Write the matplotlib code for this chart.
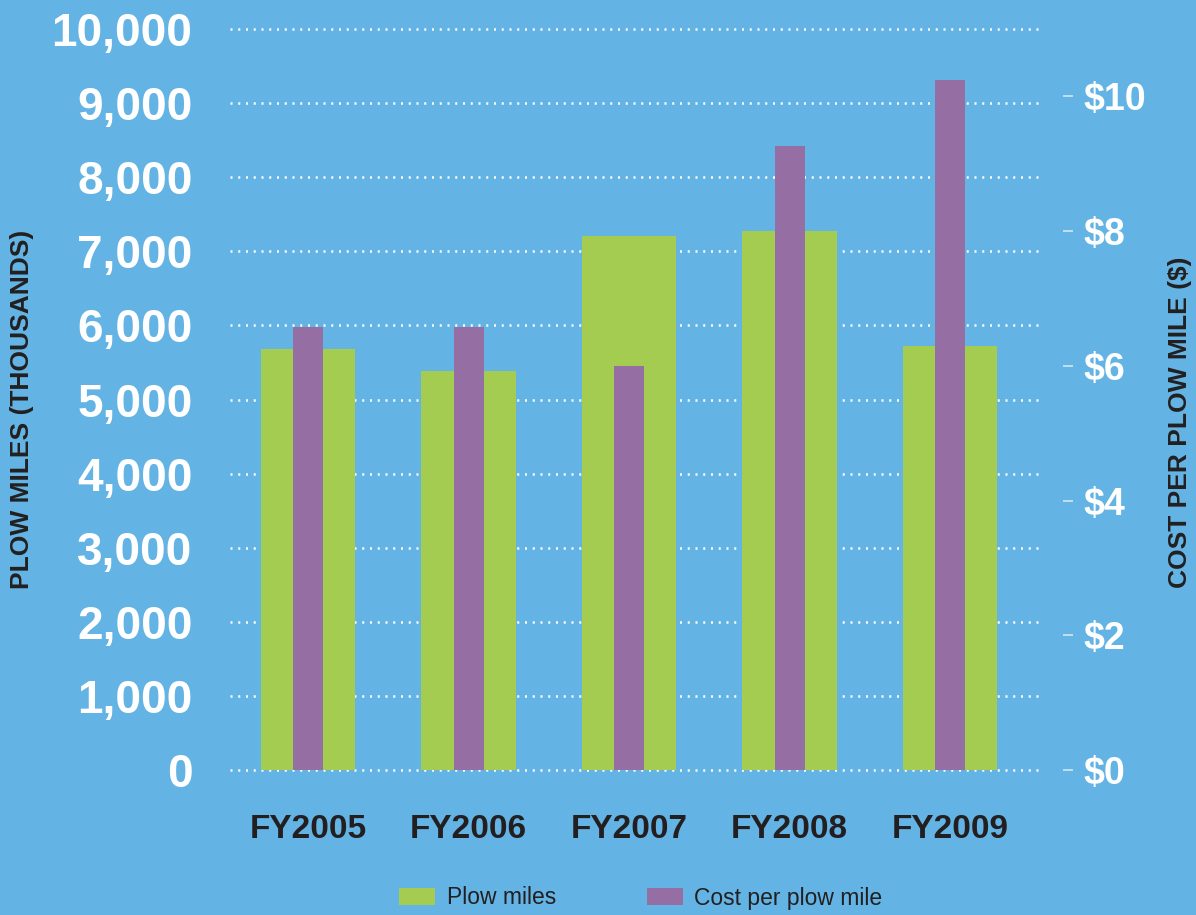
import matplotlib
matplotlib.use("Agg")
import matplotlib.pyplot as plt
import numpy as np

categories = ["FY2005", "FY2006", "FY2007", "FY2008", "FY2009"]
plow_miles = [5680, 5380, 7200, 7280, 5720]          # thousands
cost_per_mile = [6.58, 6.58, 6.00, 9.27, 10.24]       # dollars
left_ticks = [0, 1000, 2000, 3000, 4000, 5000, 6000, 7000, 8000, 9000, 10000]
right_ticks = [0, 2, 4, 6, 8, 10]
right_labels = ["$0", "$2", "$4", "$6", "$8", "$10"]

BG = "#63b4e4"
GREEN = "#a3cc50"
PURPLE = "#956ea3"
DARK = "#231f20"

plt.rcParams['font.family'] = ['Liberation Sans', 'DejaVu Sans']

fig = plt.figure(figsize=(11.96, 9.15), dpi=100, facecolor=BG)
ax = fig.add_axes([230/1196, 1-770/915, 810/1196, 741/915])
ax.set_facecolor(BG)
ax2 = ax.twinx()
ax.set_zorder(1)
ax2.set_zorder(2)
ax2.patch.set_visible(False)

x = np.arange(len(categories))
b1 = ax.bar(x, plow_miles, width=0.59, color=GREEN, zorder=3, label="Plow miles")
b2 = ax2.bar(x, cost_per_mile, width=0.187, color=PURPLE, zorder=3, label="Cost per plow mile")

ax.set_xlim(-0.486, 4.56)
ax.set_ylim(0, 10000)
ax2.set_ylim(0, 11.0)

for a in (ax, ax2):
    for s in a.spines.values():
        s.set_visible(False)

dots = (0, (0.8, 2.3))
ax.set_yticks(left_ticks)
ax.set_yticklabels([f"{v:,}" for v in left_ticks])
ax.tick_params(axis='y', length=0, pad=27, labelsize=33, labelcolor='white')
for lab in ax.get_yticklabels():
    lab.set_fontweight('bold')

ax.grid(axis='y', color='white', linestyle=dots, linewidth=1.8, zorder=0)
ax.set_axisbelow(True)
for gl in ax.get_ygridlines():
    gl.set_clip_on(False)

ax.set_xticks(x)
ax.set_xticklabels(categories)
ax.tick_params(axis='x', length=0, pad=32, labelsize=24, labelcolor=DARK)
for lab in ax.get_xticklabels():
    lab.set_fontweight('bold')

ax2.spines['right'].set_position(('outward', 16.6))
ax2.set_yticks(right_ticks)
ax2.set_yticklabels(right_labels)
ax2.tick_params(axis='y', direction='out', length=7.2, width=1.1, color=(1, 1, 1, 0.75),
                pad=7.2, labelsize=27, labelcolor='white')
for lab in ax2.get_yticklabels():
    lab.set_fontweight('bold')

fig.text(22/1196, 1-409/915, "PLOW MILES (THOUSANDS)", rotation=90, ha='center', va='center',
         fontsize=19, fontweight='bold', color=DARK)
fig.text(1180/1196, 1-422/915, "COST PER PLOW MILE ($)", rotation=90, ha='center', va='center',
         fontsize=19, fontweight='bold', color=DARK)

leg = fig.legend(handles=[b1, b2], labels=["Plow miles", "Cost per plow mile"],
                 loc='center', bbox_to_anchor=(641/1196, 1-898/915), ncol=2, frameon=False,
                 fontsize=16.5, handlelength=1.57, handleheight=0.7, handletextpad=0.52,
                 columnspacing=3.93, labelcolor=DARK, borderpad=0, borderaxespad=0)

fig.savefig("out.png", dpi=100, facecolor=BG)
